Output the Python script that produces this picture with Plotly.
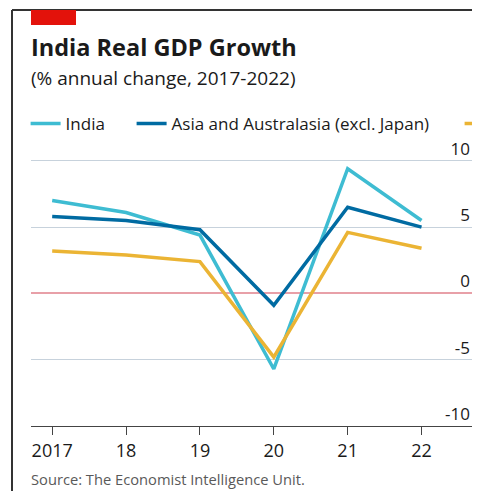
import plotly.graph_objects as go

# Real GDP growth, % annual change
years = [2017, 2018, 2019, 2020, 2021, 2022]
year_labels = ["2017", "18", "19", "20", "21", "22"]
india = [7.0, 6.1, 4.4, -5.7, 9.4, 5.5]
asia = [5.8, 5.5, 4.8, -0.9, 6.5, 5.0]
world = [3.2, 2.9, 2.4, -4.8, 4.6, 3.4]
y_ticks = [-10, -5, 0, 5, 10]
y_labels = ["-10", "-5", "0", "5", "10"]

FONT = "Open Sans"
INK = "#1a1a1a"

# the page puts the figure 8px in from the top-left corner of the window;
# keep it short enough that the page does not scroll
W, H = 472, 483
ML, MR, MT, MB = 23, 7, 113, 65
PW, PH = W - ML - MR, H - MT - MB


def px_x(x):
    # window pixel -> paper x
    return (x - 8 - ML) / PW


def px_y(y):
    # window pixel -> paper y
    return (H - MB - (y - 8)) / PH


fig = go.Figure()

fig.add_trace(go.Scatter(x=years, y=india, mode="lines", name="India",
                         line=dict(color="#3ebcd2", width=3.5), legend="legend"))
fig.add_trace(go.Scatter(x=years, y=asia, mode="lines", name="Asia and Australasia (excl. Japan)",
                         line=dict(color="#006ba2", width=3.5), legend="legend3"))
fig.add_trace(go.Scatter(x=years, y=world, mode="lines", name="World",
                         line=dict(color="#ebb434", width=3.5), legend="legend2"))

legend_style = dict(orientation="h", xanchor="left", y=px_y(124), yanchor="middle",
                    font=dict(size=17, color=INK), bgcolor="rgba(0,0,0,0)")

fig.update_layout(
    width=W,
    height=H,
    margin=dict(l=ML, r=MR, t=MT, b=MB, autoexpand=False),
    paper_bgcolor="white",
    plot_bgcolor="white",
    font=dict(family=FONT, size=17, color=INK),
    showlegend=True,
    legend=dict(x=px_x(25.6), **legend_style),
    legend3=dict(x=px_x(131.6), **legend_style),
    legend2=dict(x=px_x(459.6), **legend_style),
)

# x range keeps 2017 at 52px and 2022 at 418px of the window
x_left = 2017 - (52 - 31) / 73.2
x_right = 2022 + (473 - MR + 3 - 418) / 73.2

fig.update_xaxes(
    range=[x_left, x_right],
    tickvals=years,
    ticktext=year_labels,
    showgrid=False,
    zeroline=False,
    showline=True,
    linecolor="#444",
    linewidth=1.2,
    ticks="outside",
    ticklen=8,
    tickcolor="#444",
    tickfont=dict(size=18, color=INK),
)

fig.update_yaxes(
    range=[-10, 13],
    tickvals=y_ticks,
    ticktext=y_labels,
    side="right",
    ticklabelposition="inside top",
    showgrid=True,
    gridcolor="#c7d2dc",
    gridwidth=1.2,
    zeroline=True,
    zerolinecolor="#e8a0a8",
    zerolinewidth=1.5,
    ticks="",
    tickfont=dict(size=17, color=INK),
)

# frame, red tag, title, subtitle and source
fig.add_shape(type="line", xref="paper", yref="paper", x0=px_x(12), x1=1.2, y0=px_y(10), y1=px_y(10),
              line=dict(color="#333", width=2))
fig.add_shape(type="line", xref="paper", yref="paper", x0=px_x(12), x1=px_x(12), y0=px_y(10), y1=px_y(510),
              line=dict(color="#333", width=2))
fig.add_shape(type="rect", xref="paper", yref="paper", x0=px_x(31), x1=px_x(76), y0=px_y(25), y1=px_y(10),
              line=dict(width=0), fillcolor="#e3120b")

fig.add_annotation(text="<b>India Real GDP Growth</b>", xref="paper", yref="paper",
                   x=px_x(31), y=px_y(47), xanchor="left", yanchor="middle", showarrow=False,
                   xshift=-2, font=dict(size=23.5, color=INK))
fig.add_annotation(text="(% annual change, 2017-2022)", xref="paper", yref="paper",
                   x=px_x(31), y=px_y(78), xanchor="left", yanchor="middle", showarrow=False,
                   xshift=-2, font=dict(size=19, color=INK))
fig.add_annotation(text="Source: The Economist Intelligence Unit.", xref="paper", yref="paper",
                   x=px_x(31), y=px_y(479), xanchor="left", yanchor="middle", showarrow=False,
                   xshift=-2, font=dict(size=14.7, color="#595959"))

fig.write_html("out.html")
